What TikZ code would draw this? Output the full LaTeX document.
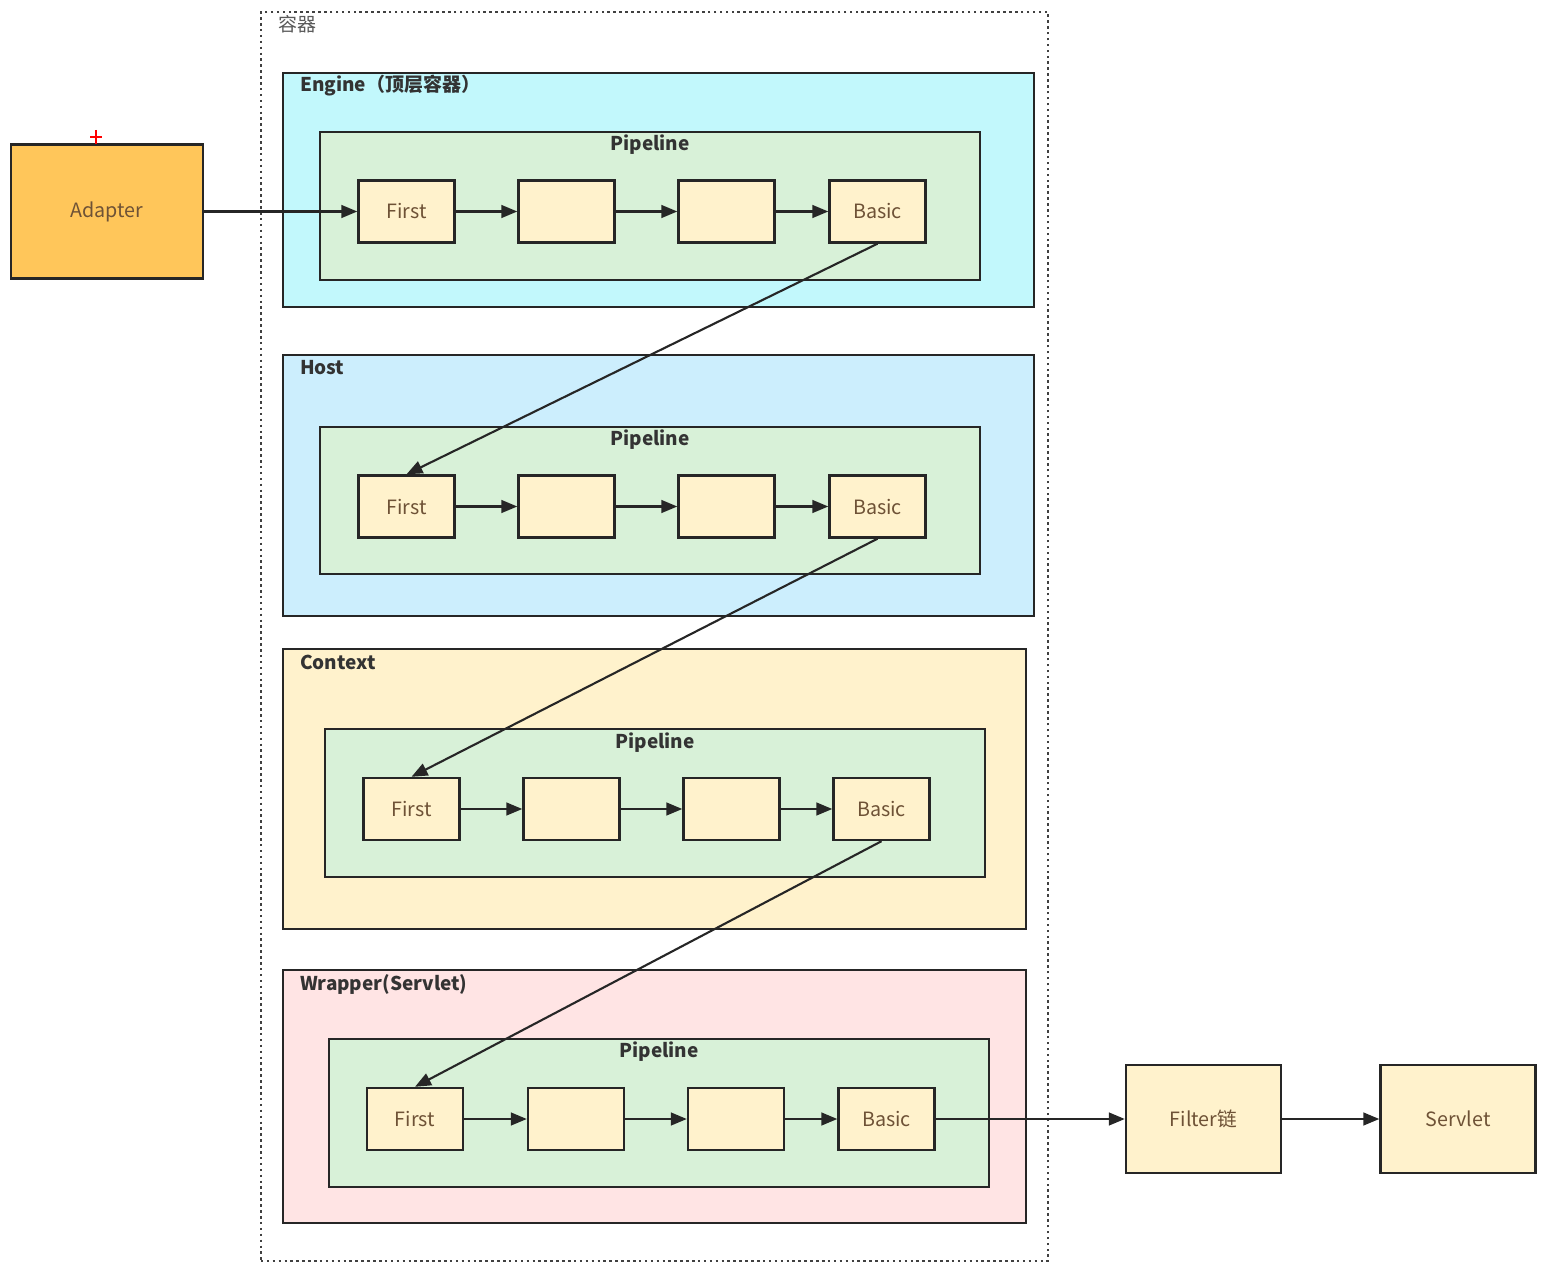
\documentclass[tikz,border=0pt]{standalone}
\usepackage{fontspec}
\setmainfont{Noto Sans CJK SC}
\usetikzlibrary{arrows.meta}

\definecolor{enginecyan}{HTML}{C2F8FC}
\definecolor{hostblue}{HTML}{CCEEFD}
\definecolor{contextyellow}{HTML}{FFF2CC}
\definecolor{wrapperpink}{HTML}{FFE4E4}
\definecolor{pipegreen}{HTML}{D8F1D8}
\definecolor{valveyellow}{HTML}{FFF2CC}
\definecolor{adapterorange}{HTML}{FFC65A}
\definecolor{linegray}{HTML}{262626}
\definecolor{valvetext}{HTML}{6E5236}
\definecolor{titlegray}{HTML}{333333}

\begin{document}
\begin{tikzpicture}[
  x=0.025cm, y=-0.025cm,
  outer/.style={rectangle, draw=black!75, dash pattern=on 1.8pt off 2.4pt, line width=1.8pt, minimum width=19.675cm, minimum height=31.225cm},
  container/.style={rectangle, draw=linegray, line width=1.7pt},
  pipe/.style={rectangle, draw=linegray, fill=pipegreen, line width=1.7pt, minimum width=16.5cm, minimum height=3.7cm},
  valve/.style={rectangle, draw=linegray, fill=valveyellow, line width=1.7pt, minimum width=2.4cm, minimum height=1.55cm, text=valvetext, font=\fontsize{14}{16}\selectfont},
  title/.style={text=titlegray, inner sep=0pt, font=\bfseries\fontsize{13.5}{15}\selectfont},
  ->, >={Triangle[length=0.4cm,width=0.32cm]}, line width=1.5pt, draw=linegray
]
\useasboundingbox (0,0) rectangle (1548,1274);

% outer container
\node[outer] (outer) at (654.5,636.5) {};
\node[text=black!65, inner sep=0pt, font=\fontsize{13.5}{15}\selectfont] (outer-title) at (297,24) {容器};

% containers
\node[container, fill=enginecyan, minimum width=18.775cm, minimum height=5.85cm] (engine) at (658.5,190) {};
\node[container, fill=hostblue, minimum width=18.775cm, minimum height=6.525cm] (host) at (658.5,485.5) {};
\node[container, fill=contextyellow, minimum width=18.575cm, minimum height=7cm] (context) at (654.5,789) {};
\node[container, fill=wrapperpink, minimum width=18.575cm, minimum height=6.325cm] (wrapper) at (654.5,1096.5) {};

\node[title, anchor=west] (engine-title) at (299,86) {Engine（顶层容器）};
\node[title, anchor=west] (host-title) at (299,368) {Host};
\node[title, anchor=west] (context-title) at (299,662) {Context};
\node[title, anchor=west] (wrapper-title) at (299,984) {Wrapper(Servlet)};

% pipelines
\node[pipe] (pipe1) at (650,206) {};
\node[pipe, minimum height=3.675cm] (pipe2) at (650,500.5) {};
\node[pipe] (pipe3) at (655,803) {};
\node[pipe] (pipe4) at (659,1113) {};

\node[title] (pipe1-title) at (650,145) {Pipeline};
\node[title] (pipe2-title) at (650,440) {Pipeline};
\node[title] (pipe3-title) at (655,743) {Pipeline};
\node[title] (pipe4-title) at (659,1052) {Pipeline};

% valves
\node[valve] (first1) at (406.5,211.5) {First};
\node[valve] (v1a) at (566.5,211.5) {};
\node[valve] (v1b) at (726.5,211.5) {};
\node[valve] (basic1) at (877.5,211.5) {Basic};

\node[valve] (first2) at (406.5,506.5) {First};
\node[valve] (v2a) at (566.5,506.5) {};
\node[valve] (v2b) at (726.5,506.5) {};
\node[valve] (basic2) at (877.5,506.5) {Basic};

\node[valve] (first3) at (411.5,809) {First};
\node[valve] (v3a) at (571.5,809) {};
\node[valve] (v3b) at (731.5,809) {};
\node[valve] (basic3) at (881.5,809) {Basic};

\node[valve] (first4) at (415,1119) {First};
\node[valve] (v4a) at (576,1119) {};
\node[valve] (v4b) at (736,1119) {};
\node[valve] (basic4) at (886.5,1119) {Basic};

% outside
\node[valve, fill=adapterorange, minimum width=4.8cm, minimum height=3.35cm] (adapter) at (107,211.5) {Adapter};
\node[valve, minimum width=3.875cm, minimum height=2.7cm] (filter) at (1203.5,1119) {Filter链};
\node[valve, minimum width=3.875cm, minimum height=2.7cm] (servlet) at (1458,1119) {Servlet};
\draw[-, red, line width=1.4pt] (90,137) -- (102,137) (96,130) -- (96,144);

% connectors
\draw (adapter) -- (first1);
\draw (first1) -- (v1a);
\draw (v1a) -- (v1b);
\draw (v1b) -- (basic1);
\draw (basic1.south) -- (first2.north);
\draw (first2) -- (v2a);
\draw (v2a) -- (v2b);
\draw (v2b) -- (basic2);
\draw (basic2.south) -- (first3.north);
\draw (first3) -- (v3a);
\draw (v3a) -- (v3b);
\draw (v3b) -- (basic3);
\draw (basic3.south) -- (first4.north);
\draw (first4) -- (v4a);
\draw (v4a) -- (v4b);
\draw (v4b) -- (basic4);
\draw (basic4) -- (filter);
\draw (filter) -- (servlet);

\end{tikzpicture}
\end{document}
